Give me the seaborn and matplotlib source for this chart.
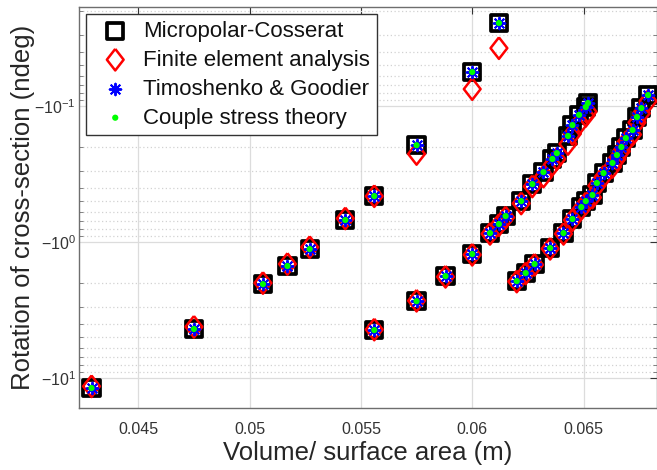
import numpy as np
import pandas as pd
import seaborn as sns
import matplotlib.pyplot as plt
from matplotlib.ticker import FuncFormatter, NullFormatter, LogLocator

# volume / surface area (m), three branches of specimens
ratio = [0.0429, 0.0475, 0.0506, 0.0517, 0.0527, 0.0543, 0.0556, 0.0575, 0.0600, 0.0612,
         0.0556, 0.0575, 0.0588, 0.0600, 0.0608, 0.0612, 0.0615, 0.0622, 0.0627, 0.0632,
         0.0636, 0.0638, 0.0643, 0.0645, 0.0648, 0.0651, 0.0652,
         0.0620, 0.0624, 0.0628, 0.0635, 0.0641, 0.0645, 0.0649, 0.0651, 0.0654, 0.0656,
         0.0659, 0.0663, 0.0665, 0.0667, 0.0669, 0.0672, 0.0674, 0.0676, 0.0679]

# rotation of cross-section (ndeg)
micropolar = [-11.85, -4.36, -2.04, -1.50, -1.126, -0.689, -0.459, -0.194, -0.0562, -0.0245,
              -4.44, -2.72, -1.78, -1.225, -0.859, -0.737, -0.644, -0.50, -0.375, -0.306,
              -0.245, -0.222, -0.166, -0.138, -0.116, -0.1017, -0.095,
              -1.935, -1.69, -1.45, -1.107, -0.859, -0.677, -0.553, -0.50, -0.451, -0.368,
              -0.311, -0.262, -0.229, -0.200, -0.172, -0.150, -0.1205, -0.1035, -0.083]
fea = [-11.5, -4.2, -2.0, -1.45, -1.09, -0.67, -0.46, -0.225, -0.075, -0.0375,
       -4.4, -2.7, -1.8, -1.24, -0.87, -0.75, -0.66, -0.52, -0.39, -0.33,
       -0.27, -0.245, -0.19, -0.16, -0.135, -0.118, -0.11,
       -1.95, -1.7, -1.47, -1.12, -0.87, -0.69, -0.57, -0.52, -0.47, -0.385,
       -0.33, -0.28, -0.245, -0.215, -0.185, -0.162, -0.132, -0.113, -0.092]
timoshenko = [-11.85, -4.36, -2.04, -1.50, -1.126, -0.689, -0.459, -0.194, -0.0562, -0.0245,
              -4.44, -2.72, -1.78, -1.225, -0.859, -0.737, -0.644, -0.50, -0.375, -0.306,
              -0.245, -0.222, -0.166, -0.138, -0.116, -0.1017, -0.095,
              -1.935, -1.69, -1.45, -1.107, -0.859, -0.677, -0.553, -0.50, -0.451, -0.368,
              -0.311, -0.262, -0.229, -0.200, -0.172, -0.150, -0.1205, -0.1035, -0.083]
couple = [-11.85, -4.36, -2.04, -1.50, -1.126, -0.689, -0.459, -0.194, -0.0562, -0.0245,
          -4.44, -2.72, -1.78, -1.225, -0.859, -0.737, -0.644, -0.50, -0.375, -0.306,
          -0.245, -0.222, -0.166, -0.138, -0.116, -0.1017, -0.095,
          -1.935, -1.69, -1.45, -1.107, -0.859, -0.677, -0.553, -0.50, -0.451, -0.368,
          -0.311, -0.262, -0.229, -0.200, -0.172, -0.150, -0.1205, -0.1035, -0.083]

sns.set_theme(style="white")
plt.rcParams["font.family"] = ["Liberation Sans", "DejaVu Sans"]
plt.rcParams["mathtext.fontset"] = "custom"
plt.rcParams["mathtext.rm"] = "Liberation Sans"
plt.rcParams["mathtext.it"] = "Liberation Sans:italic"

df = pd.DataFrame({"x": ratio,
                   "mc": -np.array(micropolar),
                   "fea": -np.array(fea),
                   "tg": -np.array(timoshenko),
                   "cs": -np.array(couple)})

fig = plt.figure(figsize=(6.57, 4.70), dpi=100)
ax = fig.add_axes([0.120, 0.132, 0.88, 0.853])

sns.scatterplot(data=df, x="x", y="mc", marker="s", s=135, facecolor="none",
                edgecolor="black", linewidth=2.7, label="Micropolar-Cosserat", ax=ax, zorder=3)
diamond = [(0, 1), (0.78, 0), (0, -1), (-0.78, 0), (0, 1)]
sns.scatterplot(data=df, x="x", y="fea", marker=diamond, s=240, facecolor="none",
                edgecolor="red", linewidth=1.8, label="Finite element analysis", ax=ax, zorder=4)
sns.scatterplot(data=df, x="x", y="tg", marker=(8, 2, 0), s=70, color="blue",
                linewidth=1.4, label="Timoshenko & Goodier", ax=ax, zorder=5)
sns.scatterplot(data=df, x="x", y="cs", marker="o", s=20, color="#00ff00",
                edgecolor="none", linewidth=0, label="Couple stress theory", ax=ax, zorder=6)

ax.set_yscale("log")
ax.set_xlim(0.04233, 0.0683)
ax.set_ylim(16.6, 0.0187)

ax.yaxis.set_major_locator(LogLocator(base=10))
ax.yaxis.set_minor_locator(LogLocator(base=10, subs=np.arange(2, 10)))
ax.yaxis.set_major_formatter(FuncFormatter(
    lambda v, p: r"$\mathregular{-10^{%d}}$" % int(round(np.log10(v)))))
ax.yaxis.set_minor_formatter(NullFormatter())
ax.set_xticks([0.045, 0.05, 0.055, 0.06, 0.065])
ax.set_xticklabels(["0.045", "0.05", "0.055", "0.06", "0.065"])

ax.grid(True, which="major", color="#dcdcdc", linewidth=0.9, linestyle="-")
ax.yaxis.grid(True, which="minor", color="#d2d2d2", linewidth=0.9, linestyle=(0, (1, 2)))
ax.set_axisbelow(True)

for s in ax.spines.values():
    s.set_color("#6e6e6e")
    s.set_linewidth(1.0)
ax.tick_params(axis="both", which="major", direction="in", length=5, width=0.8,
               colors="#333333", labelsize=11.5, top=True, right=True)
ax.tick_params(axis="y", which="minor", direction="in", length=3, width=0.6,
               colors="#6e6e6e", left=True, right=True)
ax.tick_params(axis="x", pad=10)
ax.tick_params(axis="y", pad=2)

ax.set_xlabel("Volume/ surface area (m)", fontsize=18.5, color="#262626")
ax.set_ylabel("Rotation of cross-section (ndeg)", fontsize=18.5, color="#262626")
ax.xaxis.set_label_coords(0.5, -0.082)
ax.yaxis.set_label_coords(-0.076, 0.5)

leg = ax.legend(loc="upper left", bbox_to_anchor=(0.013, 0.983), borderaxespad=0,
                fontsize=16, frameon=True, fancybox=False, framealpha=1,
                edgecolor="#333333", handletextpad=0.25, labelspacing=0.36,
                borderpad=0.3, handlelength=2.0)
leg.get_frame().set_linewidth(1.0)
for t in leg.get_texts():
    t.set_color("#111111")

fig.savefig("out.png", dpi=100)
